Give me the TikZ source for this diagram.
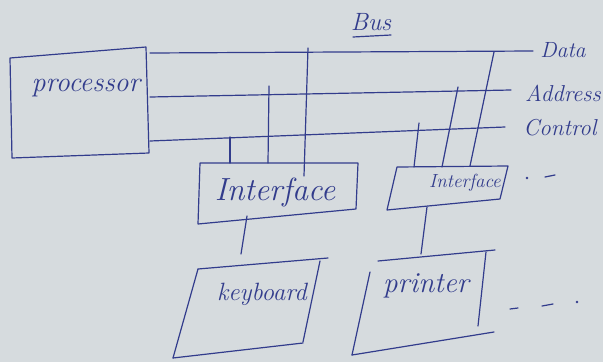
\documentclass[tikz,border=0pt]{standalone}
\usepackage{fontspec}
\definecolor{inkc}{RGB}{50,60,140}
\definecolor{paper}{RGB}{214,219,222}
\begin{document}
\begin{tikzpicture}[x=1pt,y=-1pt,
  ink/.style={draw=inkc, line width=1.2pt, line cap=round, line join=round},
  lbl/.style={text=inkc, inner sep=0pt, font=\itshape\fontsize{#1}{#1}\selectfont},
  lbl/.default=20]
\fill[paper] (0,0) rectangle (603,362);
\useasboundingbox (0,0) rectangle (603,362);

% title
\node[lbl=25] (bus) at (371,22) {Bus};
\coordinate (bu1) at (353,37); \coordinate (bu2) at (391,35);
\draw[ink] (bu1) -- (bu2);

% processor
\coordinate (P1) at (10,58); \coordinate (P2) at (146,47);
\coordinate (P3) at (149,153); \coordinate (P4) at (12,158);
\draw[ink] (P1) -- (P2) -- (P3) -- (P4) -- cycle;
\node[lbl=28] (proc) at (86,88) {processor};

% bus lines
\coordinate (D0) at (150,53);  \coordinate (D1) at (533,51);
\coordinate (A0) at (150,97);  \coordinate (A1) at (511,90);
\coordinate (C0) at (150,141); \coordinate (C1) at (505,127);
\draw[ink] (D0) -- (D1);
\draw[ink] (A0) -- (A1);
\draw[ink] (C0) -- (C1);
\node[lbl=22] (data) at (563,50) {Data};
\node[lbl=23] (addr) at (563,93) {Address};
\node[lbl=23] (ctrl) at (560,128) {Control};

% interface 1
\coordinate (Ia) at (200,163); \coordinate (Ib) at (358,163);
\coordinate (Ic) at (356,209); \coordinate (Id) at (198,224);
\draw[ink] (Ia) -- (Ib) -- (Ic) -- (Id) -- cycle;
\node[lbl=32] (if1) at (275,192) {Interface};

% interface 2
\coordinate (Ja) at (397,167); \coordinate (Jb) at (508,166);
\coordinate (Jc) at (500,199); \coordinate (Jd) at (387,210);
\draw[ink] (Ja) -- (Jb) -- (Jc) -- (Jd) -- cycle;
\node[lbl=19] (if2) at (465,183) {Interface};

% verticals to interface 1
\coordinate (v1t) at (230,137); \coordinate (v1b) at (230,163);
\coordinate (v2t) at (269,86);  \coordinate (v2b) at (268,163);
\coordinate (v3t) at (308,48);  \coordinate (v3b) at (304,176);
\draw[ink] (v1t) -- (v1b);
\draw[ink] (v2t) -- (v2b);
\draw[ink] (v3t) -- (v3b);

% verticals to interface 2
\coordinate (v4t) at (419,123); \coordinate (v4b) at (414,167);
\coordinate (v5t) at (458,87);  \coordinate (v5b) at (442,167);
\coordinate (v6t) at (494,52);  \coordinate (v6b) at (470,166);
\draw[ink] (v4t) -- (v4b);
\draw[ink] (v5t) -- (v5b);
\draw[ink] (v6t) -- (v6b);

% keyboard
\coordinate (K1) at (198,269); \coordinate (K2) at (328,258);
\coordinate (K2b) at (320,261); \coordinate (K3) at (303,342);
\coordinate (K4) at (173,358); \coordinate (K5) at (303,343);
\draw[ink] (K1) -- (K2);
\draw[ink] (K2b) -- (K3);
\draw[ink] (K4) -- (K5);
\draw[ink] (K1) -- (K4);
\node[lbl=25] (kbd) at (262,294) {keyboard};

% printer
\coordinate (R1) at (378,261); \coordinate (R2) at (495,250);
\coordinate (R2b) at (486,252); \coordinate (R3) at (478,326);
\coordinate (R4) at (352,355); \coordinate (R5) at (494,332);
\coordinate (R6) at (370,272);
\draw[ink] (R1) -- (R2);
\draw[ink] (R2b) -- (R3);
\draw[ink] (R4) -- (R5);
\draw[ink] (R6) -- (R4);
\node[lbl=29] (prn) at (426,286) {printer};

% links
\coordinate (L1t) at (247,216); \coordinate (L1b) at (241,254);
\coordinate (L2t) at (427,207); \coordinate (L2b) at (421,254);
\draw[ink] (L1t) -- (L1b);
\draw[ink] (L2t) -- (L2b);

% continuation marks
\fill[inkc] (527,178) circle (1.4);
\coordinate (m1a) at (545,177); \coordinate (m1b) at (555,175);
\draw[ink] (m1a) -- (m1b);
\coordinate (m2a) at (510,309); \coordinate (m2b) at (518,308);
\coordinate (m3a) at (542,306); \coordinate (m3b) at (553,304);
\draw[ink] (m2a) -- (m2b);
\draw[ink] (m3a) -- (m3b);
\fill[inkc] (577,302) circle (1.4);
\end{tikzpicture}
\end{document}
